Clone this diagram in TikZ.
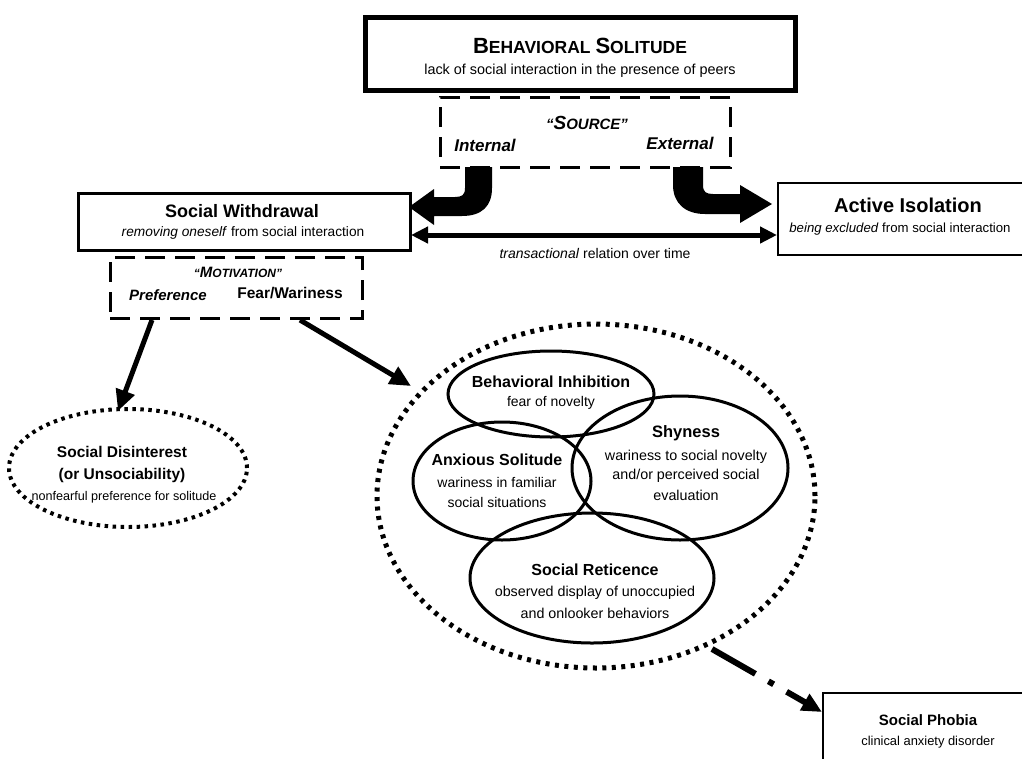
\documentclass[tikz,border=0pt]{standalone}
\usepackage{fontspec}
\setmainfont{Liberation Sans}
\usetikzlibrary{arrows.meta,shapes.geometric}
\newcommand{\fs}[1]{\fontsize{#1}{#1}\selectfont}
\begin{document}
\begin{tikzpicture}[x=1pt,y=-1pt,
  txt/.style={inner sep=0pt, outer sep=0pt, align=center},
  solidbox/.style={draw, line width=3pt, inner sep=0pt, outer sep=0pt},
  dashbox/.style={draw, line width=3pt, dash pattern=on 20pt off 10pt, inner sep=0pt, outer sep=0pt},
  oval/.style={ellipse, draw, line width=3pt, inner sep=0pt, outer sep=0pt},
  dotoval/.style={ellipse, draw, line width=5pt, dash pattern=on 4pt off 5.5pt, inner sep=0pt, outer sep=0pt},
  conn/.style={line width=5pt, -{Triangle[length=21pt,width=19pt]}},
  dconn/.style={line width=5pt, {Triangle[length=17pt,width=16pt]}-{Triangle[length=17pt,width=16pt]}},
]
\useasboundingbox (0,0) rectangle (1022,758);
\clip (0,0) rectangle (1022,758);

% Behavioral solitude
\node[solidbox, line width=5pt, minimum width=430pt, minimum height=73pt] (bs) at (580,53.5) {};
\node[txt, font=\bfseries] (bst) at (580,46) {{\fs{22}B}{\fs{17.5}EHAVIORAL }{\fs{22}S}{\fs{17.5}OLITUDE}};
\node[txt, font=\fs{14.4}] (bss) at (580,71) {lack of social interaction in the presence of peers};

% Source
\node[dashbox, minimum width=290pt, minimum height=70pt] (src) at (585,132) {};
\node[txt, font=\bfseries\itshape] (srct) at (587,123) {{\fs{15}``}{\fs{19}S}{\fs{15}OURCE''}};
\node[txt, font=\bfseries\itshape\fs{17}] (int) at (485,145) {Internal};
\node[txt, font=\bfseries\itshape\fs{17}] (ext) at (680,143) {External};

% big curved arrows
\fill (465,167) -- (492,167) -- (492,188) .. controls (492,206) and (482,216) .. (462,216)
  -- (434,216) -- (434,225) -- (409,207) -- (434,189) -- (434,197) -- (455,197)
  .. controls (462,197) and (465,195) .. (465,188) -- cycle;
\fill (673,167) -- (703,167) -- (703,185) .. controls (703,192) and (706,194) .. (713,194)
  -- (740,194) -- (740,185) -- (772,204) -- (740,223) -- (740,214) -- (705,214)
  .. controls (685,214) and (673,203) .. (673,185) -- cycle;

% Social withdrawal
\node[solidbox, minimum width=332pt, minimum height=57pt] (sw) at (244,221.5) {};
\node[txt, font=\bfseries\fs{18}] (swt) at (242,211) {Social Withdrawal};
\node[txt, font=\fs{13.7}] (sws) at (243,233) {\textit{removing oneself} from social interaction};

% Active isolation
\node[solidbox, line width=2.5pt, minimum width=260pt, minimum height=72pt] (ai) at (908,219) {};
\node[txt, font=\bfseries\fs{20}] (ait) at (908,205) {Active Isolation};
\node[txt, font=\fs{13.2}] (ais) at (900,229) {\textit{being excluded} from social interaction};

% transactional
\coordinate (ta) at (411,235);
\coordinate (tb) at (777,235);
\draw[dconn] (ta) -- (tb);
\node[txt, font=\fs{14}] (tr) at (595,253) {\textit{transactional} relation over time};

% Motivation
\node[dashbox, minimum width=252pt, minimum height=61pt] (mot) at (236,287.5) {};
\node[txt, font=\bfseries\itshape] (mott) at (238,272) {{\fs{12}``}{\fs{15}M}{\fs{12}OTIVATION''}};
\node[txt, font=\bfseries\itshape\fs{15}] (pref) at (168,295) {Preference};
\node[txt, font=\bfseries\fs{15.5}] (fear) at (290,293) {Fear/Wariness};

% Social disinterest
\node[dotoval, line width=4pt, dash pattern=on 3.5pt off 4.5pt, minimum width=238pt, minimum height=118pt] (sd) at (128,468) {};
\node[txt, font=\bfseries\fs{15.5}] (sdt) at (122,452) {Social Disinterest};
\node[txt, font=\bfseries\fs{15.5}] (sdt2) at (122,475) {(or Unsociability)};
\node[txt, font=\fs{12.6}] (sds) at (124,497) {nonfearful preference for solitude};

\coordinate (pa) at (152,320);
\coordinate (pb) at (118,411);
\draw[conn] (pa) -- (pb);
\coordinate (fa) at (300,320);
\coordinate (fb) at (411,386);
\draw[conn] (fa) -- (fb);

% big dotted circle
\node[dotoval, minimum width=438pt, minimum height=344pt] (big) at (596,496) {};

% inner ellipses
\node[oval, minimum width=206pt, minimum height=86pt] (bi) at (551,394) {};
\node[oval, minimum width=178pt, minimum height=118pt] (as) at (502,481) {};
\node[oval, minimum width=216pt, minimum height=144pt] (sh) at (680,468) {};
\node[oval, minimum width=244pt, minimum height=130pt] (sr) at (592,578) {};

\node[txt, font=\bfseries\fs{16}] (bit) at (551,382) {Behavioral Inhibition};
\node[txt, font=\fs{14}] (bis) at (551,403) {fear of novelty};
\node[txt, font=\bfseries\fs{16}] (ast) at (497,460) {Anxious Solitude};
\node[txt, font=\fs{14}] (ass1) at (497,482) {wariness in familiar};
\node[txt, font=\fs{14}] (ass2) at (497,502) {social situations};
\node[txt, font=\bfseries\fs{16.5}] (sht) at (686,433) {Shyness};
\node[txt, font=\fs{14.3}] (shs1) at (686,457) {wariness to social novelty};
\node[txt, font=\fs{14.3}] (shs2) at (686,476) {and/or perceived social};
\node[txt, font=\fs{14.3}] (shs3) at (686,495) {evaluation};
\node[txt, font=\bfseries\fs{16}] (srt) at (595,570) {Social Reticence};
\node[txt, font=\fs{14.3}] (srs1) at (595,593) {observed display of unoccupied};
\node[txt, font=\fs{14.3}] (srs2) at (595,613) {and onlooker behaviors};

% Social phobia
\node[solidbox, line width=2.5pt, minimum width=210pt, minimum height=72pt] (sp) at (928,729) {};
\node[txt, font=\bfseries\fs{15}] (spt) at (928,720) {Social Phobia};
\node[txt, font=\fs{12.9}] (sps) at (928,742) {clinical anxiety disorder};

\coordinate (da) at (712,649);
\coordinate (db) at (822,712);
\draw[line width=6pt, dash pattern=on 50pt off 15pt on 6pt off 15pt on 80pt, -{Triangle[length=20pt,width=18pt]}] (da) -- (db);
\end{tikzpicture}
\end{document}
